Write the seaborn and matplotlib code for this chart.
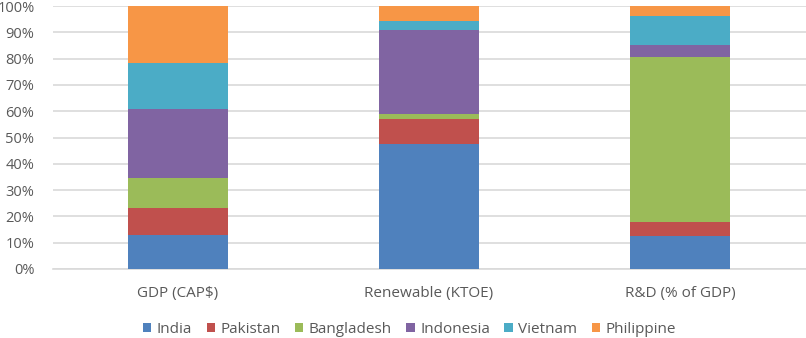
import numpy as np
import pandas as pd
import matplotlib
matplotlib.use('Agg')
import matplotlib.pyplot as plt
from matplotlib.patches import Patch
import seaborn as sns

# data (share of each country, %)
categories = ['GDP (CAP$)', 'Renewable (KTOE)', 'R&D (% of GDP)']
countries = ['India', 'Pakistan', 'Bangladesh', 'Indonesia', 'Vietnam', 'Philippine']
india = [13.0, 47.5, 12.7]
pakistan = [10.2, 9.4, 5.3]
bangladesh = [11.4, 2.0, 62.6]
indonesia = [26.2, 32.0, 4.7]
vietnam = [17.4, 3.4, 11.0]
philippine = [21.8, 5.7, 3.7]
colors = ['#4F81BD', '#C0504D', '#9BBB59', '#8064A2', '#4BACC6', '#F79646']

sns.set_theme(style='white')
plt.rcParams['font.family'] = ['Open Sans', 'DejaVu Sans']

vals = np.array([india, pakistan, bangladesh, indonesia, vietnam, philippine])
vals = vals / vals.sum(axis=0) * 100
cum = vals.cumsum(axis=0)

df = pd.DataFrame({
    'category': np.tile(categories, len(countries)),
    'country': np.repeat(countries, len(categories)),
    'top': cum.flatten(),
})

fig = plt.figure(figsize=(8.06, 3.38), dpi=100)
ax = fig.add_axes([52.5 / 806, 69 / 338, 753 / 806, 263 / 338])

# draw from the top of the stack downwards so lower segments cover upper ones
for i in range(len(countries) - 1, -1, -1):
    sub = df[df.country == countries[i]]
    sns.barplot(data=sub, x='category', y='top', order=categories, color=colors[i],
                width=0.4, saturation=1, linewidth=0, edgecolor='none', ax=ax, zorder=3)

ax.set_ylim(0, 100)
ax.set_xlim(-0.5, 2.5)
ax.set_yticks(np.arange(0, 101, 10))
ax.set_yticklabels([f'{t}%' for t in range(0, 101, 10)])
ax.yaxis.grid(True, color='#D9D9D9', lw=1.2, zorder=0)
ax.set_axisbelow(True)
for s in ['top', 'right', 'left']:
    ax.spines[s].set_visible(False)
ax.spines['bottom'].set_color('#D9D9D9')
ax.spines['bottom'].set_linewidth(1.2)
ax.set_xlabel('')
ax.set_ylabel('')
ax.tick_params(axis='both', colors='#595959', labelsize=11, length=0)
ax.tick_params(axis='x', pad=12)
ax.tick_params(axis='y', labelsize=10.5, pad=13)

handles = [Patch(facecolor=c, edgecolor='none', label=n) for c, n in zip(colors, countries)]
fig.legend(handles=handles, loc='center', bbox_to_anchor=(0.508, 0.025), ncol=6,
           frameon=False, fontsize=11, labelcolor='#595959', handlelength=0.55,
           handleheight=0.55, handletextpad=0.35, columnspacing=0.95)

fig.savefig('out.png', dpi=100)
